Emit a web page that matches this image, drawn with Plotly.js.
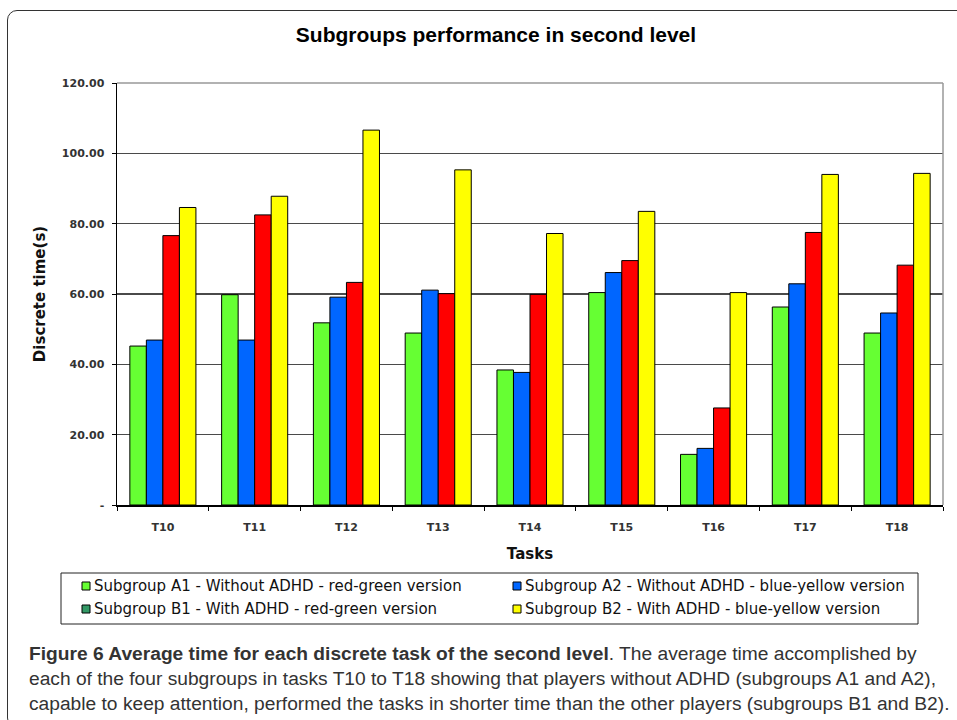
<!DOCTYPE html>
<html>
<head>
<meta charset="utf-8">
<script src="https://cdn.plot.ly/plotly-3.0.1.min.js"></script>
<style>
  html, body { margin: 0; padding: 0; background: #fff; }
  #wrap { position: relative; width: 957px; height: 720px; overflow: hidden; }
  #frame { position: absolute; left: 7px; top: 10px; width: 980px; height: 718px;
           border: 1.5px solid #333; border-radius: 10px; box-sizing: border-box; }
  #chart { position: absolute; left: 0; top: 0; width: 957px; height: 720px; }
</style>
</head>
<body>
<div id="wrap">
  <div id="frame"></div>
  <div id="chart"></div>
</div>
<script>
// ---- data ----
const tasks = ["T10", "T11", "T12", "T13", "T14", "T15", "T16", "T17", "T18"];
const subgroupA1 = [45.2, 59.8, 51.8, 48.9, 38.4, 60.4, 14.4, 56.3, 48.9];
const subgroupA2 = [46.9, 46.9, 59.1, 61.1, 37.7, 66.1, 16.1, 62.9, 54.6];
const subgroupB1 = [76.6, 82.5, 63.3, 60.1, 59.9, 69.5, 27.6, 77.5, 68.2];
const subgroupB2 = [84.6, 87.8, 106.6, 95.3, 77.2, 83.5, 60.4, 94.0, 94.3];
const seriesNames = [
  "Subgroup A1 - Without ADHD - red-green version",
  "Subgroup A2 - Without ADHD - blue-yellow version",
  "Subgroup B1 - With ADHD - red-green version",
  "Subgroup B2 - With ADHD - blue-yellow version"
];
const yTickVals = [0, 20, 40, 60, 80, 100, 120];
const yTickText = ["-", "20.00", "40.00", "60.00", "80.00", "100.00", "120.00"];

// ---- styles ----
const barColors = ["#66FF33", "#0066FF", "#FF0000", "#FFFF00"];
const legendColors = ["#66FF33", "#0066FF", "#339966", "#FFFF00"];
const W = 957, H = 720;
const M = { l: 117, r: 14, t: 83, b: 215 };
const pw = W - M.l - M.r, ph = H - M.t - M.b;
const px = v => (v - M.l) / pw;          // pixel x -> paper x
const py = v => (H - M.b - v) / ph;      // pixel y -> paper y

const values = [subgroupA1, subgroupA2, subgroupB1, subgroupB2];
const traces = values.map((vals, i) => ({
  type: "bar",
  x: tasks,
  y: vals,
  name: seriesNames[i],
  marker: { color: barColors[i], line: { color: "#000", width: 1 } },
  showlegend: false,
  hoverinfo: "x+y+name"
}));

const shapes = [
  // plot frame top and right (grey)
  { type: "line", xref: "paper", yref: "paper", x0: 0, x1: 1, y0: 1, y1: 1,
    line: { color: "#999", width: 1.5 } },
  { type: "line", xref: "paper", yref: "paper", x0: 1, x1: 1, y0: 0, y1: 1,
    line: { color: "#999", width: 1.5 } },
  // legend box
  { type: "rect", xref: "paper", yref: "paper", x0: px(61), x1: px(918), y0: py(573), y1: py(624),
    line: { color: "#222", width: 1 }, fillcolor: "rgba(0,0,0,0)" }
];
const annotations = [];
const legendPos = [[86, 586], [517, 586], [86, 609], [517, 609]];
seriesNames.forEach((nm, i) => {
  const [cx, cy] = legendPos[i];
  shapes.push({ type: "rect", xref: "paper", yref: "paper",
    x0: px(cx - 4), x1: px(cx + 4), y0: py(cy + 4), y1: py(cy - 4),
    line: { color: "#000", width: 1 }, fillcolor: legendColors[i] });
  annotations.push({ xref: "paper", yref: "paper", x: px(cx + 6), y: py(cy),
    xanchor: "left", yanchor: "middle", showarrow: false, text: nm,
    font: { family: "DejaVu Sans, Verdana, sans-serif", size: 15, color: "#111" } });
});
// caption
annotations.push({
  xref: "paper", yref: "paper", x: px(27), y: py(641), xanchor: "left", yanchor: "top",
  align: "left", showarrow: false,
  text: "<b>Figure 6 Average time for each discrete task of the second level</b>. The average time accomplished by<br>" +
        "each of the four subgroups in tasks T10 to T18 showing that players without ADHD (subgroups A1 and A2),<br>" +
        "capable to keep attention, performed the tasks in shorter time than the other players (subgroups B1 and B2).",
  font: { family: "Liberation Sans, Arial, sans-serif", size: 19.2, color: "#333" }
});

const layout = {
  width: W, height: H,
  margin: M,
  paper_bgcolor: "rgba(0,0,0,0)",
  plot_bgcolor: "#fff",
  title: { text: "Subgroups performance in second level", x: 496 / W, xanchor: "center",
           y: 1 - 35 / H, yanchor: "middle",
           font: { family: "Liberation Sans Narrow, sans-serif", size: 21, color: "#000", weight: "bold" } },
  barmode: "group",
  bargap: 0.28,
  bargroupgap: 0,
  xaxis: {
    type: "category",
    showline: true, linecolor: "#000", linewidth: 1.5,
    ticks: "outside", tickson: "boundaries", ticklen: 4, tickcolor: "#000",
    tickfont: { family: "DejaVu Sans, Verdana, sans-serif", size: 11, color: "#333", weight: "bold" },
    ticklabelstandoff: 11,
    title: { text: "Tasks", standoff: 16,
             font: { family: "DejaVu Sans, Verdana, sans-serif", size: 15, color: "#111", weight: "bold" } },
    showgrid: false, fixedrange: true
  },
  yaxis: {
    range: [0, 120], tickvals: yTickVals, ticktext: yTickText,
    showline: true, linecolor: "#000", linewidth: 1.5,
    ticks: "outside", ticklen: 4, tickcolor: "#000",
    tickfont: { family: "DejaVu Sans, Verdana, sans-serif", size: 11, color: "#333", weight: "bold" },
    ticklabelstandoff: 5,
    showgrid: true, gridcolor: "#4a4a4a", gridwidth: 1.2,
    zeroline: false,
    title: { text: "Discrete time(s)", standoff: 12,
             font: { family: "DejaVu Sans, Verdana, sans-serif", size: 15, color: "#111", weight: "bold" } },
    fixedrange: true
  },
  shapes: shapes,
  annotations: annotations
};

Plotly.newPlot("chart", traces, layout, { displayModeBar: false, staticPlot: true });
</script>
</body>
</html>
